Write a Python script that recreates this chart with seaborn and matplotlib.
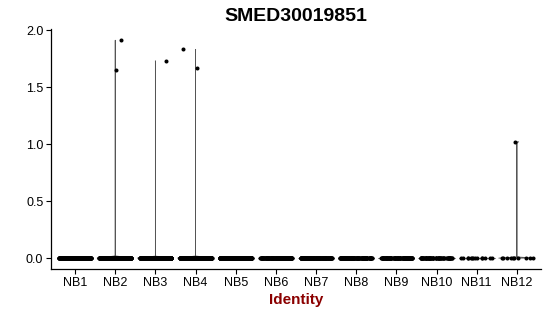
import numpy as np
import pandas as pd
import matplotlib
matplotlib.use("Agg")
import matplotlib.pyplot as plt
import seaborn as sns

# ---- data ----
groups = ["NB1", "NB2", "NB3", "NB4", "NB5", "NB6", "NB7", "NB8", "NB9", "NB10", "NB11", "NB12"]
zero_counts = [400, 380, 360, 350, 320, 160, 150, 140, 110, 70, 14, 10]
nonzero_values = {
    "NB2": [1.65, 1.91],
    "NB3": [1.73],
    "NB4": [1.67, 1.83],
    "NB12": [1.02],
}
title = "SMED30019851"
xlabel = "Identity"
yticks = [0.0, 0.5, 1.0, 1.5, 2.0]

rows = []
for g, nz in zip(groups, zero_counts):
    for v in nonzero_values.get(g, []):
        rows.append((g, v))
    rows.extend([(g, 0.0)] * nz)
df = pd.DataFrame(rows, columns=["Identity", "expr"])
df["Identity"] = pd.Categorical(df["Identity"], categories=groups, ordered=True)

sns.set_theme(style="white")
plt.rcParams["font.family"] = ["Liberation Sans", "DejaVu Sans"]
plt.rcParams["text.color"] = "black"

fig = plt.figure(figsize=(5.5, 3.16), dpi=100)
ax = fig.add_axes([0.0927, 0.1487, 0.8909, 0.7583])

sns.violinplot(data=df, x="Identity", y="expr", order=groups, ax=ax,
               cut=0, density_norm="width", inner=None, width=0.9,
               bw_method=0.001, fill=False, color="#555555", linewidth=0.6)
np.random.seed(3)
sns.stripplot(data=df, x="Identity", y="expr", order=groups, ax=ax,
              jitter=0.4, size=2.9, color="black", linewidth=0, zorder=3)

ax.set_xlim(-0.6, len(groups) - 0.4)
ax.set_ylim(-0.0955, 2.0055)
ax.set_yticks(yticks)
ax.set_yticklabels([f"{t:.1f}" for t in yticks])
ax.set_ylabel("")
ax.set_xlabel(xlabel, fontsize=11, fontweight="bold", color="#8B0000", labelpad=3)
ax.set_title(title, fontsize=14, fontweight="bold", color="black", pad=6)

for s in ["top", "right"]:
    ax.spines[s].set_visible(False)
for s in ["left", "bottom"]:
    ax.spines[s].set_color("black")
    ax.spines[s].set_linewidth(0.9)
ax.tick_params(axis="both", which="major", length=3.5, width=0.8, color="black",
               labelsize=9, labelcolor="black", bottom=True, left=True, pad=2)

fig.savefig("out.png", dpi=100)
